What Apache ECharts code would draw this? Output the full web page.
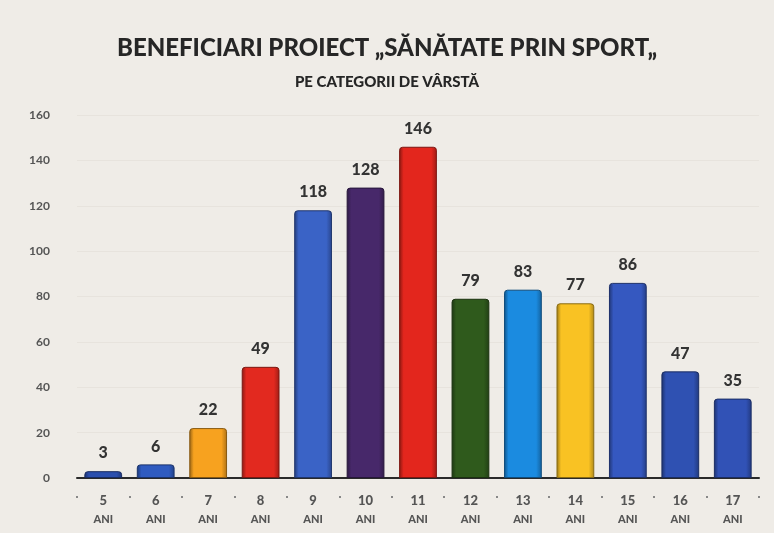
<!DOCTYPE html>
<html>
<head>
<meta charset="utf-8">
<script src="https://cdn.jsdelivr.net/npm/echarts@6/dist/echarts.min.js"></script>
<style>
  html, body { margin: 0; padding: 0; background: #efece7; }
  #chart { width: 774px; height: 533px; }
</style>
</head>
<body>
<div id="chart"></div>
<script>
// varste si numar de beneficiari
const categories = ['5', '6', '7', '8', '9', '10', '11', '12', '13', '14', '15', '16', '17']
const values = [3, 6, 22, 49, 118, 128, 146, 79, 83, 77, 86, 47, 35]
const colors = ['#2b4fae', '#2f5bc0', '#f7a21f', '#e2291f', '#3a63c6', '#47286a', '#e3261d',
  '#2f5a1c', '#1b8be0', '#f9c223', '#3558c0', '#2f51b2', '#3152b6']
const yTicks = [0, 20, 40, 60, 80, 100, 120, 140, 160]

function darker (hex, f) {
  let n = parseInt(hex.slice(1), 16)
  let r = Math.round(((n >> 16) & 255) * f)
  let g = Math.round(((n >> 8) & 255) * f)
  let b = Math.round((n & 255) * f)
  return 'rgb(' + r + ',' + g + ',' + b + ')'
}

let chart = echarts.init(document.getElementById('chart'))
let option = {
  backgroundColor: '#efece7',
  title: {
    text: 'BENEFICIARI PROIECT „SĂNĂTATE PRIN SPORT„',
    subtext: 'PE CATEGORII DE VÂRSTĂ',
    left: 'center',
    top: 31,
    itemGap: 15,
    textStyle: { fontFamily: 'Lato', fontWeight: 900, fontSize: 24, color: '#262626' },
    subtextStyle: { fontFamily: 'Lato', fontWeight: 900, fontSize: 15, color: '#262626' }
  },
  grid: { left: 77, right: 15, top: 115, bottom: 55 },
  xAxis: [{
    type: 'category',
    data: categories,
    axisLine: { lineStyle: { color: '#2a2a2a', width: 2 } },
    axisTick: { show: false },
    axisLabel: {
      margin: 13,
      interval: 0,
      formatter: v => '{n|' + v + '}\n{a|ANI}',
      rich: {
        n: { fontFamily: 'Lato', fontWeight: 900, fontSize: 13, color: '#555', lineHeight: 19 },
        a: { fontFamily: 'Lato', fontWeight: 900, fontSize: 11, color: '#555', lineHeight: 19 }
      }
    }
  }, {
    type: 'category',
    data: categories,
    position: 'bottom',
    offset: 18,
    axisLine: { show: false },
    axisTick: { show: true, length: 2, interval: 0, lineStyle: { color: '#888', width: 2 } },
    axisLabel: { show: false }
  }],
  yAxis: {
    type: 'value',
    min: yTicks[0],
    max: yTicks[yTicks.length - 1],
    interval: 20,
    axisLine: { show: false },
    axisTick: { show: false },
    splitLine: { lineStyle: { color: '#e7e3dd' } },
    axisLabel: { margin: 27, fontFamily: 'Lato', fontWeight: 'bold', fontSize: 12, color: '#555' }
  },
  series: [{
    type: 'bar',
    barWidth: '72%',
    data: values.map((v, i) => ({
      value: v,
      itemStyle: {
        color: {
          type: 'linear', x: 0, y: 0, x2: 1, y2: 0,
          colorStops: [
            { offset: 0, color: darker(colors[i], 0.6) },
            { offset: 0.12, color: colors[i] },
            { offset: 0.85, color: colors[i] },
            { offset: 1, color: darker(colors[i], 0.7) }
          ]
        },
        borderColor: darker(colors[i], 0.55),
        borderWidth: 1,
        borderRadius: [3, 3, 0, 0]
      }
    })),
    label: {
      show: true,
      position: 'top',
      distance: 10,
      fontFamily: 'Lato',
      fontWeight: 900,
      fontSize: 16,
      color: '#333'
    }
  }]
}
chart.setOption(option)
</script>
</body>
</html>
